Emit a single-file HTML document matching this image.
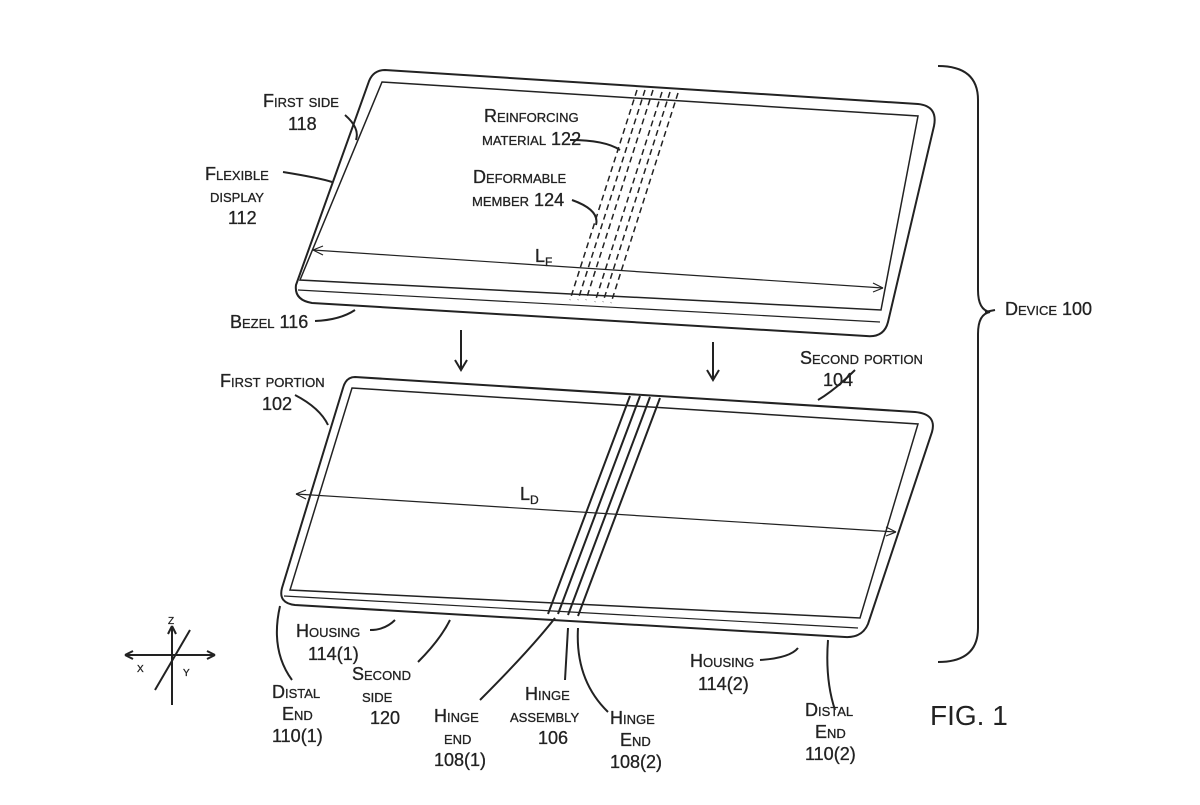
<!DOCTYPE html>
<html><head><meta charset="utf-8"><style>
body{margin:0;background:#fff}
svg text{font-family:"Liberation Sans",sans-serif;font-variant:small-caps;font-size:18px;fill:#222;stroke:#222;stroke-width:0.3}
</style></head><body>
<svg width="1200" height="800" viewBox="0 0 1200 800" xmlns="http://www.w3.org/2000/svg">
<g fill="none" stroke="#222" stroke-width="2">
<path d="M385,70 L918,104 Q938,106 934,126 L888,322 Q884,338 866,336 L312,303 Q294,300 296,285 L368,84 Q372,70 385,70 Z"/>
<path d="M382,82 L918,116 L881,310 L300,280 Z" stroke-width="1.5"/>
<path d="M298,290 L880,322" stroke-width="1.2"/>
<line x1="313" y1="250" x2="883" y2="288" stroke-width="1.2"/>
<path d="M313,250 l10,-4 m-10,4 l10,5 M883,288 l-10,-5 m10,5 l-10,4" stroke-width="1.2"/>
<g stroke-width="1.5" stroke-dasharray="6,4">
<line x1="637" y1="90" x2="570" y2="300"/><line x1="645" y1="90" x2="578" y2="300"/><line x1="653" y1="90" x2="586" y2="300"/>
<line x1="662" y1="92" x2="595" y2="302"/><line x1="670" y1="92" x2="603" y2="302"/><line x1="678" y1="93" x2="611" y2="303"/>
</g>
<path d="M355,377 L915,412 Q937,414 932,432 L868,624 Q862,638 845,637 L295,605 Q278,603 282,588 L343,388 Q346,377 355,377 Z"/>
<path d="M352,388 L918,424 L860,618 L290,590 Z" stroke-width="1.5"/>
<path d="M284,596 L858,628" stroke-width="1.2"/>
<path d="M630,396 L548,614 M640,396 L558,614 M650,397 L568,615 M660,398 L578,616"/>
<line x1="296" y1="494" x2="896" y2="532" stroke-width="1.2"/>
<path d="M296,494 l10,-4 m-10,4 l10,5 M896,532 l-10,-5 m10,5 l-10,4" stroke-width="1.2"/>
<path d="M461,330 V368 M455,360 l6,10 l6,-10 M713,342 V378 M707,370 l6,10 l6,-10"/>
<path d="M938,66 Q978,66 978,100 V290 Q978,310 990,312 Q978,314 978,334 V628 Q978,662 938,662"/>
<path d="M345,115 Q360,128 356,140 M283,172 Q320,178 332,182 M570,140 Q605,140 620,150 M572,200 Q600,210 596,225 M315,321 Q340,320 355,310 M995,310 L985,312 M855,370 Q835,390 818,400 M295,395 Q320,408 328,425 M280,606 Q270,650 292,680 M370,630 Q385,630 395,620 M418,662 Q440,640 450,620 M480,700 Q530,650 555,618 M565,680 L568,628 M608,712 Q575,680 578,628 M760,660 Q790,658 798,648 M835,710 Q825,680 828,640"/>
<path d="M172,626 V705 M125,655 H215 M155,690 L190,630 M172,626 l-4,8 M172,626 l4,8 M125,655 l8,-4 M125,655 l8,4 M215,655 l-8,-4 M215,655 l-8,4"/>
</g>
<g>
<text x="263" y="107">First side</text><text x="288" y="130">118</text>
<text x="205" y="180">Flexible</text><text x="210" y="202">display</text><text x="228" y="224">112</text>
<text x="484" y="122">Reinforcing</text><text x="482" y="145">material 122</text>
<text x="473" y="183">Deformable</text><text x="472" y="206">member 124</text>
<text x="535" y="262">L<tspan font-size="12" dy="4">F</tspan></text>
<text x="230" y="328">Bezel 116</text>
<text x="1005" y="315">Device 100</text>
<text x="800" y="364">Second portion</text><text x="823" y="386">104</text>
<text x="220" y="387">First portion</text><text x="262" y="410">102</text>
<text x="520" y="500">L<tspan font-size="12" dy="4">D</tspan></text>
<text x="296" y="637">Housing</text><text x="308" y="660">114(1)</text>
<text x="352" y="680">Second</text><text x="362" y="702">side</text><text x="370" y="724">120</text>
<text x="272" y="698">Distal</text><text x="282" y="720">End</text><text x="272" y="742">110(1)</text>
<text x="434" y="722">Hinge</text><text x="444" y="744">end</text><text x="434" y="766">108(1)</text>
<text x="525" y="700">Hinge</text><text x="510" y="722">assembly</text><text x="538" y="744">106</text>
<text x="610" y="724">Hinge</text><text x="620" y="746">End</text><text x="610" y="768">108(2)</text>
<text x="690" y="667">Housing</text><text x="698" y="690">114(2)</text>
<text x="805" y="716">Distal</text><text x="815" y="738">End</text><text x="805" y="760">110(2)</text>
<text x="930" y="725" style="font-variant:normal;font-size:28px;stroke-width:0">FIG. 1</text>
<text x="168" y="624" style="font-size:14px">z</text><text x="137" y="672" style="font-size:14px">x</text><text x="183" y="676" style="font-size:14px">y</text>
</g>
</svg>
</body></html>
